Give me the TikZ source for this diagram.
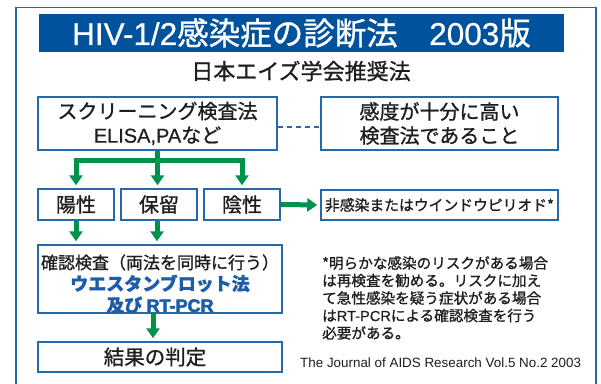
\documentclass[tikz,border=0pt]{standalone}
\usepackage{fontspec}
\setmainfont[FakeBold=1]{Noto Sans CJK JP}
\newfontfamily\lat[FakeBold=0.6]{Liberation Sans}
\newfontfamily\latfb[FakeBold=3]{Liberation Sans}
\newfontfamily\citefont{Liberation Sans}
\usetikzlibrary{arrows.meta}
\definecolor{gr}{RGB}{0,146,76}
\definecolor{bl}{RGB}{38,104,172}
\definecolor{bar}{RGB}{0,82,156}
\definecolor{btext}{RGB}{28,92,168}
\definecolor{ink}{RGB}{30,30,30}
\begin{document}
\begin{tikzpicture}[x=1pt,y=-1pt,
  box/.style={draw=bl,line width=1.5pt,fill=white,inner sep=0pt,align=center,text=ink},
  garrow/.style={draw=gr,line width=5pt,-{Triangle[width=13pt,length=10pt]},shorten >=3pt},
  gline/.style={draw=gr,line width=5pt}
]
\useasboundingbox (0,0) rectangle (601,383);
\fill[white] (0,0) rectangle (601,383);
\draw[bl,line width=1.2pt] (16,390) -- (16,7.5) -- (596,7.5) -- (596,390);

\node[fill=bar,minimum width=525pt,minimum height=38pt,inner sep=0pt,text=white,
      font=\fontsize{31.5}{32}\selectfont] (title) at (301.5,33) {{\lat HIV-1/2}感染症の診断法　{\lat 2003}版};
\node[text=ink,font=\fontsize{22}{24}\selectfont] (sub) at (301,71) {日本エイズ学会推奨法};

\node[box,minimum width=239pt,minimum height=53pt,font=\fontsize{20}{24}\selectfont] (scr) at (157.5,123.5)
  {スクリーニング検査法\\{\lat ELISA,PA}など};
\node[box,minimum width=237pt,minimum height=53pt,font=\fontsize{20}{24}\selectfont] (kan) at (439.5,123.5)
  {感度が十分に高い\\検査法であること};
\draw[bl,line width=2pt,dash pattern=on 5pt off 4pt] ([yshift=-3.5pt]scr.east) -- ([yshift=-3.5pt]kan.west);

\node[box,minimum width=76pt,minimum height=31pt,font=\fontsize{20}{24}\selectfont] (yo) at (76,204.5) {陽性};
\node[box,minimum width=76pt,minimum height=31pt,font=\fontsize{20}{24}\selectfont] (ho) at (159,204.5) {保留};
\node[box,minimum width=76pt,minimum height=31pt,font=\fontsize{20}{24}\selectfont] (in) at (242,204.5) {陰性};
\node[box,minimum width=237pt,minimum height=30pt,font=\fontsize{14.8}{18}\selectfont] (hi) at (439.5,205) {非感染またはウインドウピリオド*};

\node[box,minimum width=244pt,minimum height=68pt] (kk) at (160,279) {};
\node[inner sep=0pt,align=center,text=ink,font=\fontsize{17}{21.5}\selectfont] (kkt) at (160,284)
  {確認検査（両法を同時に行う）\\\textcolor{btext}{\fontsize{18}{21.5}\selectfont\bfseries ウエスタンブロット法}\\\textcolor{btext}{\fontsize{18}{21.5}\selectfont\bfseries 及び {\latfb RT-PCR}}};
\node[box,minimum width=244pt,minimum height=30pt] (res) at (160,357) {};
\node[inner sep=0pt,text=ink,font=\fontsize{20.5}{24}\selectfont] (rest) at (155,357) {結果の判定};

\coordinate (j) at (157.5,160);
\draw[gline] (scr.south) -- (j);
\draw[garrow] (j) -| (yo.north);
\draw[garrow] (j) -| (in.north);
\draw[garrow] (j) -- (j |- ho.north);
\draw[garrow] (yo.south) -- (yo.south |- kk.north);
\draw[garrow] ([xshift=-2pt]ho.south) -- ([xshift=-2pt]ho.south |- kk.north);
\draw[garrow] (in.east) -- (hi.west);
\draw[garrow] ([xshift=-7pt]kk.south) -- ([xshift=-7pt]res.north);

\node[anchor=north west,inner sep=0pt,align=left,text=ink,font=\fontsize{14.6}{17.5}\selectfont] (note) at (322,256)
  {*明らかな感染のリスクがある場合\\は再検査を勧める。リスクに加え\\て急性感染を疑う症状がある場合\\は{\lat RT-PCR}による確認検査を行う\\必要がある。};
\node[anchor=west,inner sep=0pt,text=ink,font=\citefont\fontsize{13.4}{15}\selectfont] (cite) at (300,363)
  {The Journal of AIDS Research Vol.5 No.2 2003};
\end{tikzpicture}
\end{document}
